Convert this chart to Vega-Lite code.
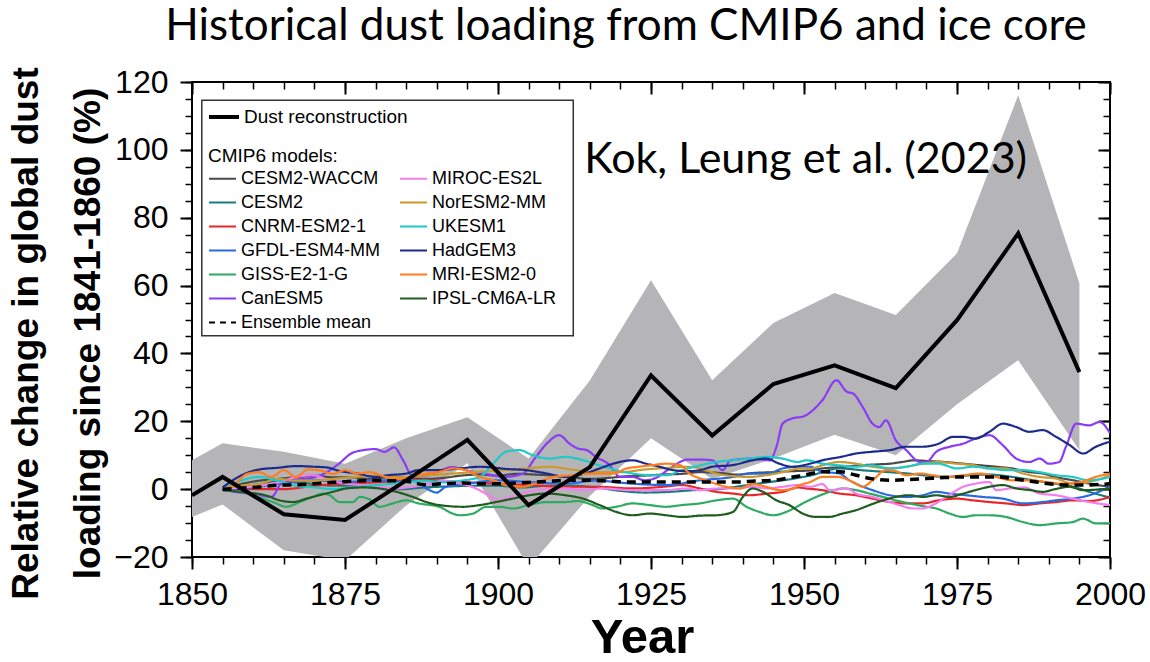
{
  "$schema": "https://vega.github.io/schema/vega-lite/v6.json",
  "width": 918,
  "height": 475,
  "autosize": {"type": "none"},
  "padding": {"left": 192, "top": 82, "right": 40, "bottom": 105},
  "background": "white",
  "title": {"text": "Historical dust loading from CMIP6 and ice core", "font": "Lato", "fontSize": 44, "fontWeight": "normal", "color": "black", "anchor": "middle", "baseline": "alphabetic", "frame": "group", "offset": -18, "dx": -25},
  "config": {
    "view": {"stroke": "black", "strokeWidth": 2},
    "axis": {"domain": false, "grid": false, "tickColor": "black", "labelColor": "black", "labelFont": "Liberation Sans", "titleFont": "Liberation Sans", "titleColor": "black", "zindex": 1},
    "legend": {"labelFont": "Liberation Sans", "titleFont": "Liberation Sans", "labelColor": "black", "titleColor": "black"}
  },
  "datasets": {
    "recon": [
      {"series": "Dust reconstruction", "year": 1850, "value": -1.8, "lo": -8.2, "hi": 8.5},
      {"series": "Dust reconstruction", "year": 1855, "value": 3.6, "lo": -4.5, "hi": 13.5},
      {"series": "Dust reconstruction", "year": 1865, "value": -7.4, "lo": -18, "hi": 11},
      {"series": "Dust reconstruction", "year": 1875, "value": -9.1, "lo": -21, "hi": 7.5},
      {"series": "Dust reconstruction", "year": 1885, "value": 2.6, "lo": -4.8, "hi": 15},
      {"series": "Dust reconstruction", "year": 1895, "value": 14.5, "lo": 7.6, "hi": 21.2},
      {"series": "Dust reconstruction", "year": 1905, "value": -4.7, "lo": -23, "hi": 9},
      {"series": "Dust reconstruction", "year": 1915, "value": 6.5, "lo": -2, "hi": 32},
      {"series": "Dust reconstruction", "year": 1925, "value": 33.5, "lo": 15, "hi": 61.6},
      {"series": "Dust reconstruction", "year": 1935, "value": 15.8, "lo": 3, "hi": 32.1},
      {"series": "Dust reconstruction", "year": 1945, "value": 31, "lo": 9, "hi": 49},
      {"series": "Dust reconstruction", "year": 1955, "value": 36.5, "lo": 16, "hi": 57.8},
      {"series": "Dust reconstruction", "year": 1965, "value": 29.8, "lo": 10, "hi": 51.3},
      {"series": "Dust reconstruction", "year": 1975, "value": 49.8, "lo": 25, "hi": 69.5},
      {"series": "Dust reconstruction", "year": 1985, "value": 75.4, "lo": 38, "hi": 116.1},
      {"series": "Dust reconstruction", "year": 1995, "value": 34.5, "lo": 11.5, "hi": 60.7}
    ],
    "ens": [
      {"series": "Ensemble mean", "year": 1855, "value": 0},
      {"series": "Ensemble mean", "year": 1858, "value": 0.3},
      {"series": "Ensemble mean", "year": 1861, "value": 0.6},
      {"series": "Ensemble mean", "year": 1864, "value": 1.2},
      {"series": "Ensemble mean", "year": 1867, "value": 1.3},
      {"series": "Ensemble mean", "year": 1870, "value": 1.6},
      {"series": "Ensemble mean", "year": 1873, "value": 2},
      {"series": "Ensemble mean", "year": 1876, "value": 2.3},
      {"series": "Ensemble mean", "year": 1879, "value": 2.6},
      {"series": "Ensemble mean", "year": 1882, "value": 2.5},
      {"series": "Ensemble mean", "year": 1885, "value": 2.3},
      {"series": "Ensemble mean", "year": 1888, "value": 1.3},
      {"series": "Ensemble mean", "year": 1891, "value": 1.6},
      {"series": "Ensemble mean", "year": 1894, "value": 1.8},
      {"series": "Ensemble mean", "year": 1897, "value": 1.6},
      {"series": "Ensemble mean", "year": 1900, "value": 1.6},
      {"series": "Ensemble mean", "year": 1903, "value": 1.8},
      {"series": "Ensemble mean", "year": 1906, "value": 2.1},
      {"series": "Ensemble mean", "year": 1909, "value": 2.4},
      {"series": "Ensemble mean", "year": 1912, "value": 2.6},
      {"series": "Ensemble mean", "year": 1915, "value": 2.6},
      {"series": "Ensemble mean", "year": 1918, "value": 2.4},
      {"series": "Ensemble mean", "year": 1921, "value": 2.1},
      {"series": "Ensemble mean", "year": 1924, "value": 2.1},
      {"series": "Ensemble mean", "year": 1927, "value": 2.1},
      {"series": "Ensemble mean", "year": 1930, "value": 2.1},
      {"series": "Ensemble mean", "year": 1933, "value": 2.1},
      {"series": "Ensemble mean", "year": 1936, "value": 2.1},
      {"series": "Ensemble mean", "year": 1939, "value": 2.1},
      {"series": "Ensemble mean", "year": 1942, "value": 2.4},
      {"series": "Ensemble mean", "year": 1945, "value": 2.6},
      {"series": "Ensemble mean", "year": 1948, "value": 3.5},
      {"series": "Ensemble mean", "year": 1950, "value": 4.1},
      {"series": "Ensemble mean", "year": 1953, "value": 5.1},
      {"series": "Ensemble mean", "year": 1956, "value": 5.1},
      {"series": "Ensemble mean", "year": 1958.5, "value": 4.1},
      {"series": "Ensemble mean", "year": 1961, "value": 3.1},
      {"series": "Ensemble mean", "year": 1964, "value": 2.6},
      {"series": "Ensemble mean", "year": 1967, "value": 2.8},
      {"series": "Ensemble mean", "year": 1970, "value": 3.1},
      {"series": "Ensemble mean", "year": 1973, "value": 3.4},
      {"series": "Ensemble mean", "year": 1976, "value": 3.6},
      {"series": "Ensemble mean", "year": 1979, "value": 3.6},
      {"series": "Ensemble mean", "year": 1982, "value": 3.6},
      {"series": "Ensemble mean", "year": 1984, "value": 3.1},
      {"series": "Ensemble mean", "year": 1986, "value": 2.6},
      {"series": "Ensemble mean", "year": 1988, "value": 2.1},
      {"series": "Ensemble mean", "year": 1990, "value": 1.6},
      {"series": "Ensemble mean", "year": 1993, "value": 1.2},
      {"series": "Ensemble mean", "year": 1996, "value": 1.2},
      {"series": "Ensemble mean", "year": 2000, "value": 1.6}
    ],
    "models": [
      {"series": "CESM2-WACCM", "year": 1855, "value": 0},
      {"series": "CESM2-WACCM", "year": 1858, "value": 1.5},
      {"series": "CESM2-WACCM", "year": 1861, "value": 2.5},
      {"series": "CESM2-WACCM", "year": 1864, "value": 3},
      {"series": "CESM2-WACCM", "year": 1867, "value": 3.5},
      {"series": "CESM2-WACCM", "year": 1870, "value": 4},
      {"series": "CESM2-WACCM", "year": 1873, "value": 3.5},
      {"series": "CESM2-WACCM", "year": 1876, "value": 3.5},
      {"series": "CESM2-WACCM", "year": 1879, "value": 3},
      {"series": "CESM2-WACCM", "year": 1882, "value": 3.5},
      {"series": "CESM2-WACCM", "year": 1885, "value": 3.5},
      {"series": "CESM2-WACCM", "year": 1888, "value": 3},
      {"series": "CESM2-WACCM", "year": 1891, "value": 3.3},
      {"series": "CESM2-WACCM", "year": 1894, "value": 4},
      {"series": "CESM2-WACCM", "year": 1897, "value": 4.3},
      {"series": "CESM2-WACCM", "year": 1900, "value": 4},
      {"series": "CESM2-WACCM", "year": 1903, "value": 4.5},
      {"series": "CESM2-WACCM", "year": 1906, "value": 4.3},
      {"series": "CESM2-WACCM", "year": 1909, "value": 4},
      {"series": "CESM2-WACCM", "year": 1912, "value": 3.5},
      {"series": "CESM2-WACCM", "year": 1915, "value": 3},
      {"series": "CESM2-WACCM", "year": 1918, "value": 3.3},
      {"series": "CESM2-WACCM", "year": 1921, "value": 3.8},
      {"series": "CESM2-WACCM", "year": 1924, "value": 4},
      {"series": "CESM2-WACCM", "year": 1927, "value": 4.3},
      {"series": "CESM2-WACCM", "year": 1930, "value": 4.5},
      {"series": "CESM2-WACCM", "year": 1933, "value": 5},
      {"series": "CESM2-WACCM", "year": 1936, "value": 4.8},
      {"series": "CESM2-WACCM", "year": 1939, "value": 4.3},
      {"series": "CESM2-WACCM", "year": 1942, "value": 4.8},
      {"series": "CESM2-WACCM", "year": 1945, "value": 5},
      {"series": "CESM2-WACCM", "year": 1948, "value": 5.3},
      {"series": "CESM2-WACCM", "year": 1951, "value": 5.5},
      {"series": "CESM2-WACCM", "year": 1953, "value": 6.1},
      {"series": "CESM2-WACCM", "year": 1956, "value": 6.5},
      {"series": "CESM2-WACCM", "year": 1959, "value": 7},
      {"series": "CESM2-WACCM", "year": 1962, "value": 7.3},
      {"series": "CESM2-WACCM", "year": 1964, "value": 7.5},
      {"series": "CESM2-WACCM", "year": 1966, "value": 8},
      {"series": "CESM2-WACCM", "year": 1968, "value": 8.5},
      {"series": "CESM2-WACCM", "year": 1970, "value": 8.3},
      {"series": "CESM2-WACCM", "year": 1973, "value": 8},
      {"series": "CESM2-WACCM", "year": 1976, "value": 7.5},
      {"series": "CESM2-WACCM", "year": 1979, "value": 7},
      {"series": "CESM2-WACCM", "year": 1982, "value": 6.5},
      {"series": "CESM2-WACCM", "year": 1984, "value": 6.1},
      {"series": "CESM2-WACCM", "year": 1986.5, "value": 5.1},
      {"series": "CESM2-WACCM", "year": 1989, "value": 4.6},
      {"series": "CESM2-WACCM", "year": 1991, "value": 3.6},
      {"series": "CESM2-WACCM", "year": 1994, "value": 2.6},
      {"series": "CESM2-WACCM", "year": 1997, "value": 1.5},
      {"series": "CESM2-WACCM", "year": 2000, "value": 0.7},

      {"series": "CESM2", "year": 1855, "value": 0},
      {"series": "CESM2", "year": 1858, "value": 0.8},
      {"series": "CESM2", "year": 1861, "value": 1.5},
      {"series": "CESM2", "year": 1864, "value": 2.5},
      {"series": "CESM2", "year": 1867, "value": 2},
      {"series": "CESM2", "year": 1870, "value": 1.5},
      {"series": "CESM2", "year": 1873, "value": 1},
      {"series": "CESM2", "year": 1876, "value": 1},
      {"series": "CESM2", "year": 1880, "value": 0.5},
      {"series": "CESM2", "year": 1884, "value": 0},
      {"series": "CESM2", "year": 1888, "value": 0.5},
      {"series": "CESM2", "year": 1892, "value": 0.8},
      {"series": "CESM2", "year": 1896, "value": 1},
      {"series": "CESM2", "year": 1900, "value": 1},
      {"series": "CESM2", "year": 1904, "value": 0.5},
      {"series": "CESM2", "year": 1908, "value": 1},
      {"series": "CESM2", "year": 1912, "value": 1},
      {"series": "CESM2", "year": 1916, "value": 0.5},
      {"series": "CESM2", "year": 1920, "value": -0.5},
      {"series": "CESM2", "year": 1924, "value": -1},
      {"series": "CESM2", "year": 1928, "value": -0.8},
      {"series": "CESM2", "year": 1932, "value": -0.3},
      {"series": "CESM2", "year": 1936, "value": 0},
      {"series": "CESM2", "year": 1940, "value": 1},
      {"series": "CESM2", "year": 1944, "value": 2},
      {"series": "CESM2", "year": 1948, "value": 3},
      {"series": "CESM2", "year": 1951, "value": 4},
      {"series": "CESM2", "year": 1955.8, "value": 6.1},
      {"series": "CESM2", "year": 1960, "value": 5.5},
      {"series": "CESM2", "year": 1964, "value": 5},
      {"series": "CESM2", "year": 1967, "value": 4.6},
      {"series": "CESM2", "year": 1970, "value": 4},
      {"series": "CESM2", "year": 1973, "value": 3.6},
      {"series": "CESM2", "year": 1976.5, "value": 4},
      {"series": "CESM2", "year": 1980, "value": 4.3},
      {"series": "CESM2", "year": 1984, "value": 3.6},
      {"series": "CESM2", "year": 1987.5, "value": 2.6},
      {"series": "CESM2", "year": 1991, "value": 1.6},
      {"series": "CESM2", "year": 1994, "value": 0.7},
      {"series": "CESM2", "year": 1997, "value": -1},
      {"series": "CESM2", "year": 2000, "value": -2.5},

      {"series": "CNRM-ESM2-1", "year": 1855, "value": 0},
      {"series": "CNRM-ESM2-1", "year": 1860, "value": 0},
      {"series": "CNRM-ESM2-1", "year": 1865, "value": 0},
      {"series": "CNRM-ESM2-1", "year": 1870, "value": 1},
      {"series": "CNRM-ESM2-1", "year": 1875, "value": 1.6},
      {"series": "CNRM-ESM2-1", "year": 1880, "value": 2},
      {"series": "CNRM-ESM2-1", "year": 1886, "value": 2.6},
      {"series": "CNRM-ESM2-1", "year": 1890, "value": 2.5},
      {"series": "CNRM-ESM2-1", "year": 1895, "value": 2},
      {"series": "CNRM-ESM2-1", "year": 1900, "value": 1.6},
      {"series": "CNRM-ESM2-1", "year": 1905, "value": 1.2},
      {"series": "CNRM-ESM2-1", "year": 1911, "value": 0.7},
      {"series": "CNRM-ESM2-1", "year": 1916, "value": 0.7},
      {"series": "CNRM-ESM2-1", "year": 1922, "value": 0.2},
      {"series": "CNRM-ESM2-1", "year": 1927, "value": 0.7},
      {"series": "CNRM-ESM2-1", "year": 1930, "value": 1.2},
      {"series": "CNRM-ESM2-1", "year": 1933, "value": 0.2},
      {"series": "CNRM-ESM2-1", "year": 1935.7, "value": -0.8},
      {"series": "CNRM-ESM2-1", "year": 1938.4, "value": -1.3},
      {"series": "CNRM-ESM2-1", "year": 1941, "value": -1.8},
      {"series": "CNRM-ESM2-1", "year": 1944, "value": -1.3},
      {"series": "CNRM-ESM2-1", "year": 1946.5, "value": -0.8},
      {"series": "CNRM-ESM2-1", "year": 1949, "value": 0.5},
      {"series": "CNRM-ESM2-1", "year": 1950.4, "value": 0.2},
      {"series": "CNRM-ESM2-1", "year": 1953, "value": -0.3},
      {"series": "CNRM-ESM2-1", "year": 1955.8, "value": -1.3},
      {"series": "CNRM-ESM2-1", "year": 1958.5, "value": -1.8},
      {"series": "CNRM-ESM2-1", "year": 1961.2, "value": -2.8},
      {"series": "CNRM-ESM2-1", "year": 1964, "value": -3.8},
      {"series": "CNRM-ESM2-1", "year": 1966.7, "value": -4.2},
      {"series": "CNRM-ESM2-1", "year": 1969.4, "value": -4.2},
      {"series": "CNRM-ESM2-1", "year": 1972, "value": -3.3},
      {"series": "CNRM-ESM2-1", "year": 1975, "value": -2.8},
      {"series": "CNRM-ESM2-1", "year": 1977.6, "value": -3.3},
      {"series": "CNRM-ESM2-1", "year": 1980.3, "value": -3.8},
      {"series": "CNRM-ESM2-1", "year": 1983, "value": -4.2},
      {"series": "CNRM-ESM2-1", "year": 1985.8, "value": -4.7},
      {"series": "CNRM-ESM2-1", "year": 1988.5, "value": -4.2},
      {"series": "CNRM-ESM2-1", "year": 1991.2, "value": -3.8},
      {"series": "CNRM-ESM2-1", "year": 1993.9, "value": -3.3},
      {"series": "CNRM-ESM2-1", "year": 1996.6, "value": -3.5},
      {"series": "CNRM-ESM2-1", "year": 2000, "value": -2.3},

      {"series": "GFDL-ESM4-MM", "year": 1855, "value": 0},
      {"series": "GFDL-ESM4-MM", "year": 1860, "value": 0.5},
      {"series": "GFDL-ESM4-MM", "year": 1864, "value": 1.6},
      {"series": "GFDL-ESM4-MM", "year": 1870, "value": 2.6},
      {"series": "GFDL-ESM4-MM", "year": 1875, "value": 2.1},
      {"series": "GFDL-ESM4-MM", "year": 1880, "value": 2.6},
      {"series": "GFDL-ESM4-MM", "year": 1886, "value": 2.6},
      {"series": "GFDL-ESM4-MM", "year": 1888, "value": 0.5},
      {"series": "GFDL-ESM4-MM", "year": 1890, "value": -1},
      {"series": "GFDL-ESM4-MM", "year": 1891.5, "value": 0.7},
      {"series": "GFDL-ESM4-MM", "year": 1895, "value": 1.6},
      {"series": "GFDL-ESM4-MM", "year": 1900, "value": 2.6},
      {"series": "GFDL-ESM4-MM", "year": 1905, "value": 2.1},
      {"series": "GFDL-ESM4-MM", "year": 1911, "value": 1.6},
      {"series": "GFDL-ESM4-MM", "year": 1916, "value": 2.5},
      {"series": "GFDL-ESM4-MM", "year": 1922, "value": 1.6},
      {"series": "GFDL-ESM4-MM", "year": 1927.5, "value": 1.2},
      {"series": "GFDL-ESM4-MM", "year": 1933, "value": 2.6},
      {"series": "GFDL-ESM4-MM", "year": 1938.4, "value": 3.6},
      {"series": "GFDL-ESM4-MM", "year": 1941, "value": 4.6},
      {"series": "GFDL-ESM4-MM", "year": 1944, "value": 4.6},
      {"series": "GFDL-ESM4-MM", "year": 1946.5, "value": 6.1},
      {"series": "GFDL-ESM4-MM", "year": 1949, "value": 6.6},
      {"series": "GFDL-ESM4-MM", "year": 1951, "value": 6.6},
      {"series": "GFDL-ESM4-MM", "year": 1953, "value": 5.1},
      {"series": "GFDL-ESM4-MM", "year": 1955.8, "value": 4.6},
      {"series": "GFDL-ESM4-MM", "year": 1957.4, "value": 2.6},
      {"series": "GFDL-ESM4-MM", "year": 1958.5, "value": 1.6},
      {"series": "GFDL-ESM4-MM", "year": 1961.2, "value": -0.3},
      {"series": "GFDL-ESM4-MM", "year": 1964, "value": -1.8},
      {"series": "GFDL-ESM4-MM", "year": 1966.7, "value": -2.3},
      {"series": "GFDL-ESM4-MM", "year": 1969.4, "value": -1.8},
      {"series": "GFDL-ESM4-MM", "year": 1971.6, "value": -0.8},
      {"series": "GFDL-ESM4-MM", "year": 1973.8, "value": -1.3},
      {"series": "GFDL-ESM4-MM", "year": 1976.5, "value": -1.8},
      {"series": "GFDL-ESM4-MM", "year": 1979.2, "value": -2.3},
      {"series": "GFDL-ESM4-MM", "year": 1982.5, "value": -2.8},
      {"series": "GFDL-ESM4-MM", "year": 1985.8, "value": -4.2},
      {"series": "GFDL-ESM4-MM", "year": 1989, "value": -3.8},
      {"series": "GFDL-ESM4-MM", "year": 1991.2, "value": -3.3},
      {"series": "GFDL-ESM4-MM", "year": 1993.9, "value": -2.8},
      {"series": "GFDL-ESM4-MM", "year": 1996.6, "value": -1.8},
      {"series": "GFDL-ESM4-MM", "year": 2000, "value": 0.7},

      {"series": "GISS-E2-1-G", "year": 1855, "value": -0.3},
      {"series": "GISS-E2-1-G", "year": 1858.9, "value": -1.3},
      {"series": "GISS-E2-1-G", "year": 1861.6, "value": -2.8},
      {"series": "GISS-E2-1-G", "year": 1863.5, "value": -4},
      {"series": "GISS-E2-1-G", "year": 1865.4, "value": -5.2},
      {"series": "GISS-E2-1-G", "year": 1867.6, "value": -3.8},
      {"series": "GISS-E2-1-G", "year": 1869.7, "value": -2.3},
      {"series": "GISS-E2-1-G", "year": 1871.4, "value": -1.3},
      {"series": "GISS-E2-1-G", "year": 1872.5, "value": -1.8},
      {"series": "GISS-E2-1-G", "year": 1874.1, "value": -3.8},
      {"series": "GISS-E2-1-G", "year": 1876.3, "value": -3.8},
      {"series": "GISS-E2-1-G", "year": 1877.4, "value": -2.3},
      {"series": "GISS-E2-1-G", "year": 1879, "value": -3},
      {"series": "GISS-E2-1-G", "year": 1880.6, "value": -5.2},
      {"series": "GISS-E2-1-G", "year": 1882.8, "value": -4.2},
      {"series": "GISS-E2-1-G", "year": 1885, "value": -3.3},
      {"series": "GISS-E2-1-G", "year": 1887, "value": -4.2},
      {"series": "GISS-E2-1-G", "year": 1890.4, "value": -5.2},
      {"series": "GISS-E2-1-G", "year": 1892.6, "value": -7.2},
      {"series": "GISS-E2-1-G", "year": 1893.7, "value": -7.7},
      {"series": "GISS-E2-1-G", "year": 1895.9, "value": -7.2},
      {"series": "GISS-E2-1-G", "year": 1898.1, "value": -5.2},
      {"series": "GISS-E2-1-G", "year": 1900.3, "value": -5.2},
      {"series": "GISS-E2-1-G", "year": 1902.4, "value": -5.7},
      {"series": "GISS-E2-1-G", "year": 1905, "value": -4.7},
      {"series": "GISS-E2-1-G", "year": 1907.9, "value": -3.8},
      {"series": "GISS-E2-1-G", "year": 1911, "value": -3.8},
      {"series": "GISS-E2-1-G", "year": 1913, "value": -3.5},
      {"series": "GISS-E2-1-G", "year": 1915.5, "value": -4.7},
      {"series": "GISS-E2-1-G", "year": 1917, "value": -5.7},
      {"series": "GISS-E2-1-G", "year": 1919.3, "value": -5.2},
      {"series": "GISS-E2-1-G", "year": 1922, "value": -4.2},
      {"series": "GISS-E2-1-G", "year": 1924.8, "value": -4.7},
      {"series": "GISS-E2-1-G", "year": 1927.5, "value": -5.2},
      {"series": "GISS-E2-1-G", "year": 1930, "value": -4.7},
      {"series": "GISS-E2-1-G", "year": 1933, "value": -4.2},
      {"series": "GISS-E2-1-G", "year": 1935.7, "value": -3.3},
      {"series": "GISS-E2-1-G", "year": 1938.4, "value": -2.8},
      {"series": "GISS-E2-1-G", "year": 1940.6, "value": -5.2},
      {"series": "GISS-E2-1-G", "year": 1942.7, "value": -6.7},
      {"series": "GISS-E2-1-G", "year": 1945, "value": -7.7},
      {"series": "GISS-E2-1-G", "year": 1947.1, "value": -6.7},
      {"series": "GISS-E2-1-G", "year": 1948.5, "value": -5.5},
      {"series": "GISS-E2-1-G", "year": 1949.8, "value": -4.2},
      {"series": "GISS-E2-1-G", "year": 1952, "value": -2.3},
      {"series": "GISS-E2-1-G", "year": 1954.2, "value": -0.8},
      {"series": "GISS-E2-1-G", "year": 1956.3, "value": 0.2},
      {"series": "GISS-E2-1-G", "year": 1958.5, "value": -0.3},
      {"series": "GISS-E2-1-G", "year": 1960.7, "value": -1.3},
      {"series": "GISS-E2-1-G", "year": 1962.9, "value": -2.3},
      {"series": "GISS-E2-1-G", "year": 1965, "value": -3.3},
      {"series": "GISS-E2-1-G", "year": 1967.2, "value": -4.2},
      {"series": "GISS-E2-1-G", "year": 1969.4, "value": -5},
      {"series": "GISS-E2-1-G", "year": 1971.6, "value": -5.7},
      {"series": "GISS-E2-1-G", "year": 1973.8, "value": -7.2},
      {"series": "GISS-E2-1-G", "year": 1976, "value": -8.2},
      {"series": "GISS-E2-1-G", "year": 1978, "value": -7.7},
      {"series": "GISS-E2-1-G", "year": 1980.3, "value": -7.7},
      {"series": "GISS-E2-1-G", "year": 1983, "value": -8.2},
      {"series": "GISS-E2-1-G", "year": 1985.8, "value": -9.7},
      {"series": "GISS-E2-1-G", "year": 1988.5, "value": -10.6},
      {"series": "GISS-E2-1-G", "year": 1991.2, "value": -10.1},
      {"series": "GISS-E2-1-G", "year": 1993.9, "value": -9.7},
      {"series": "GISS-E2-1-G", "year": 1995.6, "value": -8.7},
      {"series": "GISS-E2-1-G", "year": 1997.7, "value": -10.1},
      {"series": "GISS-E2-1-G", "year": 2000, "value": -10.1},

      {"series": "CanESM5", "year": 1855, "value": 0},
      {"series": "CanESM5", "year": 1857, "value": -0.8},
      {"series": "CanESM5", "year": 1860, "value": -1.3},
      {"series": "CanESM5", "year": 1863, "value": -2.3},
      {"series": "CanESM5", "year": 1864.5, "value": 1.5},
      {"series": "CanESM5", "year": 1866, "value": 2.5},
      {"series": "CanESM5", "year": 1868, "value": 3},
      {"series": "CanESM5", "year": 1870, "value": 3.5},
      {"series": "CanESM5", "year": 1872, "value": 5},
      {"series": "CanESM5", "year": 1874, "value": 7.5},
      {"series": "CanESM5", "year": 1876, "value": 10.5},
      {"series": "CanESM5", "year": 1878, "value": 11.5},
      {"series": "CanESM5", "year": 1880, "value": 11.8},
      {"series": "CanESM5", "year": 1881.5, "value": 11},
      {"series": "CanESM5", "year": 1883, "value": 12.3},
      {"series": "CanESM5", "year": 1884.5, "value": 8.5},
      {"series": "CanESM5", "year": 1886, "value": 4},
      {"series": "CanESM5", "year": 1888, "value": 4},
      {"series": "CanESM5", "year": 1890, "value": 5},
      {"series": "CanESM5", "year": 1892.5, "value": 6.5},
      {"series": "CanESM5", "year": 1895, "value": 5.5},
      {"series": "CanESM5", "year": 1898, "value": 4.5},
      {"series": "CanESM5", "year": 1901, "value": 3.6},
      {"series": "CanESM5", "year": 1904, "value": 4.5},
      {"series": "CanESM5", "year": 1906, "value": 9},
      {"series": "CanESM5", "year": 1908, "value": 13.5},
      {"series": "CanESM5", "year": 1910, "value": 15.9},
      {"series": "CanESM5", "year": 1911.7, "value": 13.4},
      {"series": "CanESM5", "year": 1913, "value": 12},
      {"series": "CanESM5", "year": 1914.5, "value": 11.5},
      {"series": "CanESM5", "year": 1916, "value": 9.5},
      {"series": "CanESM5", "year": 1918, "value": 7.5},
      {"series": "CanESM5", "year": 1920, "value": 3.6},
      {"series": "CanESM5", "year": 1922, "value": 3.6},
      {"series": "CanESM5", "year": 1924, "value": 2.6},
      {"series": "CanESM5", "year": 1926, "value": 3.5},
      {"series": "CanESM5", "year": 1928, "value": 6},
      {"series": "CanESM5", "year": 1931, "value": 8.7},
      {"series": "CanESM5", "year": 1933, "value": 8.7},
      {"series": "CanESM5", "year": 1935, "value": 8.5},
      {"series": "CanESM5", "year": 1936.7, "value": 5.6},
      {"series": "CanESM5", "year": 1938, "value": 8.5},
      {"series": "CanESM5", "year": 1941.5, "value": 9},
      {"series": "CanESM5", "year": 1944.4, "value": 8.5},
      {"series": "CanESM5", "year": 1945.5, "value": 12.5},
      {"series": "CanESM5", "year": 1946.5, "value": 19.3},
      {"series": "CanESM5", "year": 1948, "value": 20.8},
      {"series": "CanESM5", "year": 1950, "value": 21.5},
      {"series": "CanESM5", "year": 1952, "value": 24.2},
      {"series": "CanESM5", "year": 1953, "value": 26.2},
      {"series": "CanESM5", "year": 1955.3, "value": 32.1},
      {"series": "CanESM5", "year": 1957, "value": 28.7},
      {"series": "CanESM5", "year": 1958, "value": 28.2},
      {"series": "CanESM5", "year": 1959.6, "value": 24.2},
      {"series": "CanESM5", "year": 1961.2, "value": 19.3},
      {"series": "CanESM5", "year": 1962.3, "value": 18.3},
      {"series": "CanESM5", "year": 1963.4, "value": 20.3},
      {"series": "CanESM5", "year": 1965, "value": 14.4},
      {"series": "CanESM5", "year": 1966.7, "value": 11.5},
      {"series": "CanESM5", "year": 1969, "value": 8},
      {"series": "CanESM5", "year": 1970, "value": 8},
      {"series": "CanESM5", "year": 1971.6, "value": 11},
      {"series": "CanESM5", "year": 1973.8, "value": 12.5},
      {"series": "CanESM5", "year": 1976, "value": 13.4},
      {"series": "CanESM5", "year": 1978, "value": 14.9},
      {"series": "CanESM5", "year": 1980.3, "value": 15.9},
      {"series": "CanESM5", "year": 1982.5, "value": 12.9},
      {"series": "CanESM5", "year": 1984.7, "value": 9},
      {"series": "CanESM5", "year": 1986.8, "value": 8},
      {"series": "CanESM5", "year": 1988.5, "value": 9},
      {"series": "CanESM5", "year": 1990, "value": 7.5},
      {"series": "CanESM5", "year": 1991.7, "value": 8},
      {"series": "CanESM5", "year": 1992.8, "value": 12.5},
      {"series": "CanESM5", "year": 1994.5, "value": 19.3},
      {"series": "CanESM5", "year": 1996.6, "value": 18.8},
      {"series": "CanESM5", "year": 1998.3, "value": 19.8},
      {"series": "CanESM5", "year": 2000, "value": 16.5},

      {"series": "MIROC-ES2L", "year": 1855, "value": 0},
      {"series": "MIROC-ES2L", "year": 1858, "value": 0.5},
      {"series": "MIROC-ES2L", "year": 1861, "value": 1},
      {"series": "MIROC-ES2L", "year": 1864.3, "value": 2.1},
      {"series": "MIROC-ES2L", "year": 1867, "value": 3.6},
      {"series": "MIROC-ES2L", "year": 1869.7, "value": 4.1},
      {"series": "MIROC-ES2L", "year": 1872.5, "value": 2.6},
      {"series": "MIROC-ES2L", "year": 1875.2, "value": 1.6},
      {"series": "MIROC-ES2L", "year": 1877.9, "value": 1.2},
      {"series": "MIROC-ES2L", "year": 1880.6, "value": 0.7},
      {"series": "MIROC-ES2L", "year": 1883, "value": 0.2},
      {"series": "MIROC-ES2L", "year": 1886, "value": 0.7},
      {"series": "MIROC-ES2L", "year": 1888.8, "value": 1.6},
      {"series": "MIROC-ES2L", "year": 1891, "value": 2.5},
      {"series": "MIROC-ES2L", "year": 1894, "value": 1.6},
      {"series": "MIROC-ES2L", "year": 1896, "value": 0.5},
      {"series": "MIROC-ES2L", "year": 1898, "value": -1.3},
      {"series": "MIROC-ES2L", "year": 1900, "value": -3.3},
      {"series": "MIROC-ES2L", "year": 1902, "value": -2.3},
      {"series": "MIROC-ES2L", "year": 1905, "value": -0.8},
      {"series": "MIROC-ES2L", "year": 1908, "value": 0},
      {"series": "MIROC-ES2L", "year": 1911, "value": 0.2},
      {"series": "MIROC-ES2L", "year": 1914, "value": -0.3},
      {"series": "MIROC-ES2L", "year": 1917, "value": 0.2},
      {"series": "MIROC-ES2L", "year": 1922, "value": -0.3},
      {"series": "MIROC-ES2L", "year": 1927.5, "value": -0.3},
      {"series": "MIROC-ES2L", "year": 1930.8, "value": 0.2},
      {"series": "MIROC-ES2L", "year": 1933, "value": -0.3},
      {"series": "MIROC-ES2L", "year": 1936, "value": 0.2},
      {"series": "MIROC-ES2L", "year": 1939, "value": 0.2},
      {"series": "MIROC-ES2L", "year": 1941.6, "value": 0.7},
      {"series": "MIROC-ES2L", "year": 1944, "value": 0.2},
      {"series": "MIROC-ES2L", "year": 1946.5, "value": 0.7},
      {"series": "MIROC-ES2L", "year": 1949, "value": 1.2},
      {"series": "MIROC-ES2L", "year": 1951, "value": 0.7},
      {"series": "MIROC-ES2L", "year": 1953, "value": 1.5},
      {"series": "MIROC-ES2L", "year": 1954.2, "value": -0.3},
      {"series": "MIROC-ES2L", "year": 1957, "value": 0.2},
      {"series": "MIROC-ES2L", "year": 1958.5, "value": -1.3},
      {"series": "MIROC-ES2L", "year": 1961.2, "value": -2.3},
      {"series": "MIROC-ES2L", "year": 1964, "value": -3.8},
      {"series": "MIROC-ES2L", "year": 1965.6, "value": -4.7},
      {"series": "MIROC-ES2L", "year": 1967.8, "value": -5.7},
      {"series": "MIROC-ES2L", "year": 1969.4, "value": -5.7},
      {"series": "MIROC-ES2L", "year": 1971, "value": -4.7},
      {"series": "MIROC-ES2L", "year": 1973.5, "value": -2},
      {"series": "MIROC-ES2L", "year": 1976, "value": 0.7},
      {"series": "MIROC-ES2L", "year": 1978, "value": 1.6},
      {"series": "MIROC-ES2L", "year": 1980.3, "value": 2.1},
      {"series": "MIROC-ES2L", "year": 1981.4, "value": -0.3},
      {"series": "MIROC-ES2L", "year": 1983.6, "value": 0.2},
      {"series": "MIROC-ES2L", "year": 1986, "value": 0.5},
      {"series": "MIROC-ES2L", "year": 1988.5, "value": -1.3},
      {"series": "MIROC-ES2L", "year": 1991.2, "value": -1.8},
      {"series": "MIROC-ES2L", "year": 1993.9, "value": -2.8},
      {"series": "MIROC-ES2L", "year": 1996.6, "value": -3.8},
      {"series": "MIROC-ES2L", "year": 2000, "value": -4.7},

      {"series": "NorESM2-MM", "year": 1855, "value": 0},
      {"series": "NorESM2-MM", "year": 1858, "value": 1},
      {"series": "NorESM2-MM", "year": 1861, "value": 1.5},
      {"series": "NorESM2-MM", "year": 1864, "value": 3},
      {"series": "NorESM2-MM", "year": 1867, "value": 2.5},
      {"series": "NorESM2-MM", "year": 1870, "value": 2.5},
      {"series": "NorESM2-MM", "year": 1873, "value": 3},
      {"series": "NorESM2-MM", "year": 1876, "value": 3.5},
      {"series": "NorESM2-MM", "year": 1880, "value": 4},
      {"series": "NorESM2-MM", "year": 1884, "value": 3.5},
      {"series": "NorESM2-MM", "year": 1888, "value": 4},
      {"series": "NorESM2-MM", "year": 1892, "value": 4.5},
      {"series": "NorESM2-MM", "year": 1896, "value": 5},
      {"series": "NorESM2-MM", "year": 1900, "value": 5.5},
      {"series": "NorESM2-MM", "year": 1904.6, "value": 6.1},
      {"series": "NorESM2-MM", "year": 1908.4, "value": 6.6},
      {"series": "NorESM2-MM", "year": 1912, "value": 5.8},
      {"series": "NorESM2-MM", "year": 1916, "value": 5},
      {"series": "NorESM2-MM", "year": 1920, "value": 5},
      {"series": "NorESM2-MM", "year": 1924, "value": 5.8},
      {"series": "NorESM2-MM", "year": 1928, "value": 6.3},
      {"series": "NorESM2-MM", "year": 1930.8, "value": 6.6},
      {"series": "NorESM2-MM", "year": 1933, "value": 6.1},
      {"series": "NorESM2-MM", "year": 1935.7, "value": 4.6},
      {"series": "NorESM2-MM", "year": 1938.5, "value": 3.8},
      {"series": "NorESM2-MM", "year": 1941, "value": 3.6},
      {"series": "NorESM2-MM", "year": 1943.8, "value": 4.1},
      {"series": "NorESM2-MM", "year": 1946.5, "value": 5},
      {"series": "NorESM2-MM", "year": 1949.3, "value": 6.1},
      {"series": "NorESM2-MM", "year": 1951, "value": 6},
      {"series": "NorESM2-MM", "year": 1953.1, "value": 7.1},
      {"series": "NorESM2-MM", "year": 1955.8, "value": 8},
      {"series": "NorESM2-MM", "year": 1958.5, "value": 7.5},
      {"series": "NorESM2-MM", "year": 1961.2, "value": 6.6},
      {"series": "NorESM2-MM", "year": 1964, "value": 6.1},
      {"series": "NorESM2-MM", "year": 1966.7, "value": 6.6},
      {"series": "NorESM2-MM", "year": 1969.4, "value": 7.5},
      {"series": "NorESM2-MM", "year": 1972, "value": 8},
      {"series": "NorESM2-MM", "year": 1974.9, "value": 7.5},
      {"series": "NorESM2-MM", "year": 1977.6, "value": 7.1},
      {"series": "NorESM2-MM", "year": 1980.3, "value": 6.1},
      {"series": "NorESM2-MM", "year": 1983, "value": 6.1},
      {"series": "NorESM2-MM", "year": 1985.8, "value": 4.6},
      {"series": "NorESM2-MM", "year": 1988.5, "value": 3.6},
      {"series": "NorESM2-MM", "year": 1991.2, "value": 3.1},
      {"series": "NorESM2-MM", "year": 1993.9, "value": 1.6},
      {"series": "NorESM2-MM", "year": 1996.6, "value": 2.1},
      {"series": "NorESM2-MM", "year": 2000, "value": 4.1},

      {"series": "UKESM1", "year": 1855, "value": 0},
      {"series": "UKESM1", "year": 1858, "value": 2.5},
      {"series": "UKESM1", "year": 1861, "value": 3.6},
      {"series": "UKESM1", "year": 1864, "value": 2.5},
      {"series": "UKESM1", "year": 1867, "value": 1},
      {"series": "UKESM1", "year": 1870, "value": 0.5},
      {"series": "UKESM1", "year": 1873, "value": 0},
      {"series": "UKESM1", "year": 1876, "value": 0.5},
      {"series": "UKESM1", "year": 1879, "value": 1},
      {"series": "UKESM1", "year": 1882, "value": 1.5},
      {"series": "UKESM1", "year": 1885, "value": 2},
      {"series": "UKESM1", "year": 1888, "value": 2.5},
      {"series": "UKESM1", "year": 1891, "value": 2},
      {"series": "UKESM1", "year": 1894, "value": 2.5},
      {"series": "UKESM1", "year": 1897, "value": 3.6},
      {"series": "UKESM1", "year": 1899.2, "value": 7.5},
      {"series": "UKESM1", "year": 1901.3, "value": 11},
      {"series": "UKESM1", "year": 1903.5, "value": 11.5},
      {"series": "UKESM1", "year": 1905.7, "value": 10},
      {"series": "UKESM1", "year": 1908.4, "value": 9},
      {"series": "UKESM1", "year": 1911, "value": 9.5},
      {"series": "UKESM1", "year": 1914, "value": 8.5},
      {"series": "UKESM1", "year": 1916.6, "value": 7},
      {"series": "UKESM1", "year": 1919.3, "value": 5.6},
      {"series": "UKESM1", "year": 1922, "value": 4.6},
      {"series": "UKESM1", "year": 1925, "value": 4.1},
      {"series": "UKESM1", "year": 1927.5, "value": 4.1},
      {"series": "UKESM1", "year": 1930, "value": 5.6},
      {"series": "UKESM1", "year": 1933, "value": 7},
      {"series": "UKESM1", "year": 1935.7, "value": 8},
      {"series": "UKESM1", "year": 1938.4, "value": 8.5},
      {"series": "UKESM1", "year": 1941, "value": 9},
      {"series": "UKESM1", "year": 1943.8, "value": 9.5},
      {"series": "UKESM1", "year": 1946.5, "value": 9},
      {"series": "UKESM1", "year": 1949, "value": 8},
      {"series": "UKESM1", "year": 1950.4, "value": 8.5},
      {"series": "UKESM1", "year": 1953, "value": 7.5},
      {"series": "UKESM1", "year": 1955.8, "value": 7},
      {"series": "UKESM1", "year": 1958.5, "value": 6.6},
      {"series": "UKESM1", "year": 1961, "value": 7},
      {"series": "UKESM1", "year": 1964, "value": 6.1},
      {"series": "UKESM1", "year": 1966.7, "value": 6.6},
      {"series": "UKESM1", "year": 1969.4, "value": 7.5},
      {"series": "UKESM1", "year": 1972, "value": 7.5},
      {"series": "UKESM1", "year": 1975, "value": 6.1},
      {"series": "UKESM1", "year": 1977.6, "value": 6.6},
      {"series": "UKESM1", "year": 1980.3, "value": 6.1},
      {"series": "UKESM1", "year": 1983, "value": 5.6},
      {"series": "UKESM1", "year": 1985.8, "value": 5.6},
      {"series": "UKESM1", "year": 1988.5, "value": 5},
      {"series": "UKESM1", "year": 1991.2, "value": 4.1},
      {"series": "UKESM1", "year": 1993.9, "value": 3.6},
      {"series": "UKESM1", "year": 1996.6, "value": 2.6},
      {"series": "UKESM1", "year": 2000, "value": 3.6},

      {"series": "HadGEM3", "year": 1855, "value": 0.5},
      {"series": "HadGEM3", "year": 1858, "value": 4},
      {"series": "HadGEM3", "year": 1861, "value": 5.8},
      {"series": "HadGEM3", "year": 1864, "value": 6.3},
      {"series": "HadGEM3", "year": 1867, "value": 6.8},
      {"series": "HadGEM3", "year": 1870, "value": 6.6},
      {"series": "HadGEM3", "year": 1872, "value": 6.4},
      {"series": "HadGEM3", "year": 1874, "value": 5.4},
      {"series": "HadGEM3", "year": 1877, "value": 4.6},
      {"series": "HadGEM3", "year": 1880, "value": 3.6},
      {"series": "HadGEM3", "year": 1882, "value": 4.1},
      {"series": "HadGEM3", "year": 1885, "value": 4.6},
      {"series": "HadGEM3", "year": 1887, "value": 5.6},
      {"series": "HadGEM3", "year": 1890, "value": 5.6},
      {"series": "HadGEM3", "year": 1893.7, "value": 6.1},
      {"series": "HadGEM3", "year": 1897, "value": 6.6},
      {"series": "HadGEM3", "year": 1899, "value": 6.4},
      {"series": "HadGEM3", "year": 1901, "value": 6},
      {"series": "HadGEM3", "year": 1904.6, "value": 5.6},
      {"series": "HadGEM3", "year": 1908, "value": 4.6},
      {"series": "HadGEM3", "year": 1911, "value": 3.6},
      {"series": "HadGEM3", "year": 1914, "value": 4.5},
      {"series": "HadGEM3", "year": 1916.6, "value": 6.1},
      {"series": "HadGEM3", "year": 1918.8, "value": 7.5},
      {"series": "HadGEM3", "year": 1922, "value": 8.5},
      {"series": "HadGEM3", "year": 1924.2, "value": 7.5},
      {"series": "HadGEM3", "year": 1926.4, "value": 6.6},
      {"series": "HadGEM3", "year": 1928.6, "value": 5.6},
      {"series": "HadGEM3", "year": 1931, "value": 5.3},
      {"series": "HadGEM3", "year": 1933, "value": 5.6},
      {"series": "HadGEM3", "year": 1935, "value": 6.6},
      {"series": "HadGEM3", "year": 1938.4, "value": 7.1},
      {"series": "HadGEM3", "year": 1941.6, "value": 8.5},
      {"series": "HadGEM3", "year": 1943.8, "value": 9},
      {"series": "HadGEM3", "year": 1946, "value": 7.5},
      {"series": "HadGEM3", "year": 1948, "value": 6.6},
      {"series": "HadGEM3", "year": 1951, "value": 7.5},
      {"series": "HadGEM3", "year": 1953, "value": 8.5},
      {"series": "HadGEM3", "year": 1956, "value": 9.5},
      {"series": "HadGEM3", "year": 1958.5, "value": 10.5},
      {"series": "HadGEM3", "year": 1961, "value": 11},
      {"series": "HadGEM3", "year": 1964, "value": 11.5},
      {"series": "HadGEM3", "year": 1966.7, "value": 12.5},
      {"series": "HadGEM3", "year": 1969.4, "value": 12.5},
      {"series": "HadGEM3", "year": 1972, "value": 13.4},
      {"series": "HadGEM3", "year": 1974.3, "value": 15.4},
      {"series": "HadGEM3", "year": 1976, "value": 15.4},
      {"series": "HadGEM3", "year": 1978, "value": 14.9},
      {"series": "HadGEM3", "year": 1980.3, "value": 16.9},
      {"series": "HadGEM3", "year": 1982.5, "value": 19.3},
      {"series": "HadGEM3", "year": 1984.7, "value": 18.3},
      {"series": "HadGEM3", "year": 1986.8, "value": 16.9},
      {"series": "HadGEM3", "year": 1989, "value": 17.4},
      {"series": "HadGEM3", "year": 1991.2, "value": 15.4},
      {"series": "HadGEM3", "year": 1993.4, "value": 13},
      {"series": "HadGEM3", "year": 1995.6, "value": 10.5},
      {"series": "HadGEM3", "year": 1997.7, "value": 12.5},
      {"series": "HadGEM3", "year": 2000, "value": 14},

      {"series": "MRI-ESM2-0", "year": 1855, "value": 0},
      {"series": "MRI-ESM2-0", "year": 1857, "value": 1.5},
      {"series": "MRI-ESM2-0", "year": 1859, "value": 4.5},
      {"series": "MRI-ESM2-0", "year": 1861, "value": 5},
      {"series": "MRI-ESM2-0", "year": 1863, "value": 3.6},
      {"series": "MRI-ESM2-0", "year": 1865, "value": 5.6},
      {"series": "MRI-ESM2-0", "year": 1867, "value": 3.6},
      {"series": "MRI-ESM2-0", "year": 1869, "value": 5.8},
      {"series": "MRI-ESM2-0", "year": 1871, "value": 5.5},
      {"series": "MRI-ESM2-0", "year": 1873, "value": 4.5},
      {"series": "MRI-ESM2-0", "year": 1875, "value": 5.6},
      {"series": "MRI-ESM2-0", "year": 1877, "value": 4.6},
      {"series": "MRI-ESM2-0", "year": 1879, "value": 5},
      {"series": "MRI-ESM2-0", "year": 1881.7, "value": 3.6},
      {"series": "MRI-ESM2-0", "year": 1884, "value": 3},
      {"series": "MRI-ESM2-0", "year": 1886, "value": 3.6},
      {"series": "MRI-ESM2-0", "year": 1888.3, "value": 4.6},
      {"series": "MRI-ESM2-0", "year": 1890.4, "value": 5.1},
      {"series": "MRI-ESM2-0", "year": 1892.6, "value": 6.1},
      {"series": "MRI-ESM2-0", "year": 1894.8, "value": 5.6},
      {"series": "MRI-ESM2-0", "year": 1897, "value": 3.6},
      {"series": "MRI-ESM2-0", "year": 1899.2, "value": 2.6},
      {"series": "MRI-ESM2-0", "year": 1901.3, "value": 1.2},
      {"series": "MRI-ESM2-0", "year": 1904, "value": 0.7},
      {"series": "MRI-ESM2-0", "year": 1906, "value": 1.6},
      {"series": "MRI-ESM2-0", "year": 1909, "value": 3.6},
      {"series": "MRI-ESM2-0", "year": 1912, "value": 4.1},
      {"series": "MRI-ESM2-0", "year": 1915, "value": 4.6},
      {"series": "MRI-ESM2-0", "year": 1918.8, "value": 4.6},
      {"series": "MRI-ESM2-0", "year": 1921, "value": 6.1},
      {"series": "MRI-ESM2-0", "year": 1923, "value": 6.6},
      {"series": "MRI-ESM2-0", "year": 1925.3, "value": 7.1},
      {"series": "MRI-ESM2-0", "year": 1927.5, "value": 7.5},
      {"series": "MRI-ESM2-0", "year": 1929.7, "value": 7.1},
      {"series": "MRI-ESM2-0", "year": 1931.3, "value": 4.6},
      {"series": "MRI-ESM2-0", "year": 1934, "value": 2.6},
      {"series": "MRI-ESM2-0", "year": 1937.3, "value": 0.7},
      {"series": "MRI-ESM2-0", "year": 1939.5, "value": 0.2},
      {"series": "MRI-ESM2-0", "year": 1941.6, "value": 1.5},
      {"series": "MRI-ESM2-0", "year": 1943.8, "value": 0.7},
      {"series": "MRI-ESM2-0", "year": 1946, "value": -0.3},
      {"series": "MRI-ESM2-0", "year": 1948, "value": 0},
      {"series": "MRI-ESM2-0", "year": 1949.3, "value": 1.2},
      {"series": "MRI-ESM2-0", "year": 1951, "value": 2.1},
      {"series": "MRI-ESM2-0", "year": 1953, "value": 3.6},
      {"series": "MRI-ESM2-0", "year": 1955.5, "value": 3.6},
      {"series": "MRI-ESM2-0", "year": 1958, "value": 2.1},
      {"series": "MRI-ESM2-0", "year": 1959.6, "value": 0.7},
      {"series": "MRI-ESM2-0", "year": 1961.2, "value": 2.6},
      {"series": "MRI-ESM2-0", "year": 1963.4, "value": 5.6},
      {"series": "MRI-ESM2-0", "year": 1965, "value": 5.3},
      {"series": "MRI-ESM2-0", "year": 1966.7, "value": 4.1},
      {"series": "MRI-ESM2-0", "year": 1969, "value": 4.6},
      {"series": "MRI-ESM2-0", "year": 1971, "value": 4.1},
      {"series": "MRI-ESM2-0", "year": 1973.2, "value": 3.6},
      {"series": "MRI-ESM2-0", "year": 1976, "value": 4.1},
      {"series": "MRI-ESM2-0", "year": 1978.7, "value": 4.6},
      {"series": "MRI-ESM2-0", "year": 1981.4, "value": 3.6},
      {"series": "MRI-ESM2-0", "year": 1984, "value": 2.6},
      {"series": "MRI-ESM2-0", "year": 1987, "value": 2.6},
      {"series": "MRI-ESM2-0", "year": 1989.6, "value": 2.1},
      {"series": "MRI-ESM2-0", "year": 1992.3, "value": 1.6},
      {"series": "MRI-ESM2-0", "year": 1995, "value": 2},
      {"series": "MRI-ESM2-0", "year": 1997.7, "value": 3.6},
      {"series": "MRI-ESM2-0", "year": 2000, "value": 4.6},

      {"series": "IPSL-CM6A-LR", "year": 1855, "value": -0.3},
      {"series": "IPSL-CM6A-LR", "year": 1859, "value": -1},
      {"series": "IPSL-CM6A-LR", "year": 1862, "value": -1.8},
      {"series": "IPSL-CM6A-LR", "year": 1864.3, "value": -3.3},
      {"series": "IPSL-CM6A-LR", "year": 1866.5, "value": -3.8},
      {"series": "IPSL-CM6A-LR", "year": 1868.7, "value": -2.8},
      {"series": "IPSL-CM6A-LR", "year": 1870.8, "value": -1.8},
      {"series": "IPSL-CM6A-LR", "year": 1873, "value": -0.8},
      {"series": "IPSL-CM6A-LR", "year": 1875.2, "value": 0.2},
      {"series": "IPSL-CM6A-LR", "year": 1878, "value": 0.5},
      {"series": "IPSL-CM6A-LR", "year": 1880.6, "value": 0.2},
      {"series": "IPSL-CM6A-LR", "year": 1883.4, "value": -0.8},
      {"series": "IPSL-CM6A-LR", "year": 1886.1, "value": -2.3},
      {"series": "IPSL-CM6A-LR", "year": 1888.3, "value": -3.8},
      {"series": "IPSL-CM6A-LR", "year": 1890.4, "value": -4.7},
      {"series": "IPSL-CM6A-LR", "year": 1894.3, "value": -5.2},
      {"series": "IPSL-CM6A-LR", "year": 1897, "value": -4.7},
      {"series": "IPSL-CM6A-LR", "year": 1899.7, "value": -3.8},
      {"series": "IPSL-CM6A-LR", "year": 1902.4, "value": -2.8},
      {"series": "IPSL-CM6A-LR", "year": 1905.1, "value": -1.8},
      {"series": "IPSL-CM6A-LR", "year": 1907.9, "value": -1.3},
      {"series": "IPSL-CM6A-LR", "year": 1911, "value": -1.8},
      {"series": "IPSL-CM6A-LR", "year": 1913.9, "value": -2.8},
      {"series": "IPSL-CM6A-LR", "year": 1916.6, "value": -4.7},
      {"series": "IPSL-CM6A-LR", "year": 1919.3, "value": -6.7},
      {"series": "IPSL-CM6A-LR", "year": 1922, "value": -7.7},
      {"series": "IPSL-CM6A-LR", "year": 1924.8, "value": -7.2},
      {"series": "IPSL-CM6A-LR", "year": 1927.5, "value": -7.7},
      {"series": "IPSL-CM6A-LR", "year": 1930.2, "value": -8.2},
      {"series": "IPSL-CM6A-LR", "year": 1933, "value": -7.8},
      {"series": "IPSL-CM6A-LR", "year": 1935.7, "value": -7.7},
      {"series": "IPSL-CM6A-LR", "year": 1938.4, "value": -6.7},
      {"series": "IPSL-CM6A-LR", "year": 1940, "value": -2.3},
      {"series": "IPSL-CM6A-LR", "year": 1941.6, "value": 0.2},
      {"series": "IPSL-CM6A-LR", "year": 1943.3, "value": -0.8},
      {"series": "IPSL-CM6A-LR", "year": 1945.5, "value": -3.3},
      {"series": "IPSL-CM6A-LR", "year": 1947.6, "value": -4.7},
      {"series": "IPSL-CM6A-LR", "year": 1949.8, "value": -7.2},
      {"series": "IPSL-CM6A-LR", "year": 1952, "value": -8.2},
      {"series": "IPSL-CM6A-LR", "year": 1954, "value": -8.2},
      {"series": "IPSL-CM6A-LR", "year": 1956.3, "value": -7.2},
      {"series": "IPSL-CM6A-LR", "year": 1958.5, "value": -6.2},
      {"series": "IPSL-CM6A-LR", "year": 1960.7, "value": -4.7},
      {"series": "IPSL-CM6A-LR", "year": 1962.9, "value": -3.3},
      {"series": "IPSL-CM6A-LR", "year": 1965, "value": -2.3},
      {"series": "IPSL-CM6A-LR", "year": 1967.2, "value": -1.8},
      {"series": "IPSL-CM6A-LR", "year": 1969.4, "value": -2.3},
      {"series": "IPSL-CM6A-LR", "year": 1971.6, "value": -1.8},
      {"series": "IPSL-CM6A-LR", "year": 1973.8, "value": -2.3},
      {"series": "IPSL-CM6A-LR", "year": 1976, "value": -1.3},
      {"series": "IPSL-CM6A-LR", "year": 1978, "value": -0.3},
      {"series": "IPSL-CM6A-LR", "year": 1980.3, "value": 0.7},
      {"series": "IPSL-CM6A-LR", "year": 1982.5, "value": 1.2},
      {"series": "IPSL-CM6A-LR", "year": 1984.7, "value": 0.2},
      {"series": "IPSL-CM6A-LR", "year": 1987, "value": -0.3},
      {"series": "IPSL-CM6A-LR", "year": 1989, "value": -0.8},
      {"series": "IPSL-CM6A-LR", "year": 1991, "value": 0},
      {"series": "IPSL-CM6A-LR", "year": 1993.4, "value": 0.7},
      {"series": "IPSL-CM6A-LR", "year": 1995.6, "value": -0.3},
      {"series": "IPSL-CM6A-LR", "year": 2000, "value": 0.2}
    ]
  },
  "layer": [
    {
      "data": {"name": "recon"},
      "mark": {"type": "area", "color": "#b5b5b7", "clip": true},
      "encoding": {
        "x": {"field": "year", "type": "quantitative", "scale": {"domain": [1850, 2000], "nice": false, "zero": false},
          "axis": {"orient": "bottom", "values": [1850, 1875, 1900, 1925, 1950, 1975, 2000], "format": "d", "tickSize": 12, "tickWidth": 2, "labelFontSize": 32, "labelPadding": 35, "labelBaseline": "alphabetic", "labelFlush": false, "labelOverlap": false, "title": "Year", "titleFontSize": 49, "titleFontWeight": "bold", "titleX": 450, "titleY": 95, "titleBaseline": "alphabetic", "titleAlign": "center"}},
        "y": {"field": "lo", "type": "quantitative", "scale": {"domain": [-20, 120], "nice": false, "zero": false},
          "axis": {"orient": "left", "values": [-20, 0, 20, 40, 60, 80, 100, 120], "tickSize": 12, "tickWidth": 2, "labelFontSize": 32, "labelPadding": 12, "labelFlush": false, "labelOverlap": false, "title": ["Relative change in global dust", "loading since 1841-1860 (%)"], "titleFontSize": 37, "titleFontWeight": "bold", "titleAngle": -90, "titleX": -184, "titleY": 251, "titleBaseline": "top", "titleAlign": "center", "titleLineHeight": 62}},
        "y2": {"field": "hi"}
      }
    },
    {
      "data": {"name": "models"},
      "mark": {"type": "line", "strokeWidth": 2.2, "clip": true, "interpolate": "monotone"},
      "encoding": {
        "x": {"field": "year", "type": "quantitative",
          "axis": {"orient": "bottom", "values": [1850, 1855, 1860, 1865, 1870, 1875, 1880, 1885, 1890, 1895, 1900, 1905, 1910, 1915, 1920, 1925, 1930, 1935, 1940, 1945, 1950, 1955, 1960, 1965, 1970, 1975, 1980, 1985, 1990, 1995, 2000], "tickSize": 7, "tickWidth": 1.5, "labels": false, "title": null}},
        "y": {"field": "value", "type": "quantitative",
          "axis": {"orient": "left", "values": [-20, -15, -10, -5, 0, 5, 10, 15, 20, 25, 30, 35, 40, 45, 50, 55, 60, 65, 70, 75, 80, 85, 90, 95, 100, 105, 110, 115, 120], "tickSize": 7, "tickWidth": 1.5, "labels": false, "title": null}},
        "color": {"field": "series", "type": "nominal",
          "scale": {"domain": ["CESM2-WACCM", "CESM2", "CNRM-ESM2-1", "GFDL-ESM4-MM", "GISS-E2-1-G", "CanESM5", "Ensemble mean", "MIROC-ES2L", "NorESM2-MM", "UKESM1", "HadGEM3", "MRI-ESM2-0", "IPSL-CM6A-LR"],
            "range": ["#4a4a4a", "#1a7a80", "#e8262b", "#2a6ae0", "#2eaa62", "#8a3cf5", "#000000", "#f47ef0", "#c99a2e", "#20c8c8", "#1c2a8a", "#ff7d1e", "#1f5c1f"]},
          "legend": {"orient": "none", "legendX": 16, "legendY": 65, "title": "CMIP6 models:", "titleFontSize": 19, "titleFontWeight": "normal", "titlePadding": -2, "columns": 2, "columnPadding": 16, "rowPadding": 0, "symbolType": "stroke", "symbolSize": 729, "symbolStrokeWidth": 2, "labelFontSize": 18, "labelOffset": 4, "labelLimit": 300, "padding": 0}},
        "strokeDash": {"field": "series", "type": "nominal",
          "scale": {"domain": ["CESM2-WACCM", "CESM2", "CNRM-ESM2-1", "GFDL-ESM4-MM", "GISS-E2-1-G", "CanESM5", "Ensemble mean", "MIROC-ES2L", "NorESM2-MM", "UKESM1", "HadGEM3", "MRI-ESM2-0", "IPSL-CM6A-LR"],
            "range": [[1, 0], [1, 0], [1, 0], [1, 0], [1, 0], [1, 0], [6, 5], [1, 0], [1, 0], [1, 0], [1, 0], [1, 0], [1, 0]]}}
      }
    },
    {
      "data": {"name": "ens"},
      "mark": {"type": "line", "strokeWidth": 3.5, "clip": true, "interpolate": "monotone", "strokeDash": [9, 6]},
      "encoding": {
        "x": {"field": "year", "type": "quantitative",
          "axis": {"orient": "top", "values": [1850, 1875, 1900, 1925, 1950, 1975, 2000], "tickSize": -12, "tickWidth": 2, "labels": false, "title": null}},
        "y": {"field": "value", "type": "quantitative",
          "axis": {"orient": "right", "values": [-20, 0, 20, 40, 60, 80, 100, 120], "tickSize": -12, "tickWidth": 2, "labels": false, "title": null}},
        "color": {"field": "series", "type": "nominal"}
      }
    },
    {
      "data": {"name": "recon"},
      "mark": {"type": "line", "color": "black", "clip": true},
      "encoding": {
        "x": {"field": "year", "type": "quantitative",
          "axis": {"orient": "top", "values": [1850, 1855, 1860, 1865, 1870, 1875, 1880, 1885, 1890, 1895, 1900, 1905, 1910, 1915, 1920, 1925, 1930, 1935, 1940, 1945, 1950, 1955, 1960, 1965, 1970, 1975, 1980, 1985, 1990, 1995, 2000], "tickSize": -7, "tickWidth": 1.5, "labels": false, "title": null}},
        "y": {"field": "value", "type": "quantitative",
          "axis": {"orient": "right", "values": [-20, -15, -10, -5, 0, 5, 10, 15, 20, 25, 30, 35, 40, 45, 50, 55, 60, 65, 70, 75, 80, 85, 90, 95, 100, 105, 110, 115, 120], "tickSize": -7, "tickWidth": 1.5, "labels": false, "title": null}},
        "strokeWidth": {"field": "series", "type": "nominal", "scale": {"domain": ["Dust reconstruction"], "range": [4, 4]},
          "legend": {"orient": "none", "legendX": 15, "legendY": 18, "title": null, "symbolType": "stroke", "symbolSize": 900, "symbolStrokeColor": "black", "labelFontSize": 19, "labelOffset": 3, "labelLimit": 300, "padding": 0}}
      }
    },
    {
      "data": {"values": [{}]},
      "mark": {"type": "rect", "fill": "white", "stroke": "#333333", "strokeWidth": 1.5},
      "encoding": {
        "x": {"datum": 1851.6, "type": "quantitative", "axis": null},
        "x2": {"datum": 1912.3},
        "y": {"datum": 114.6, "type": "quantitative", "axis": null},
        "y2": {"datum": 45.2}
      }
    },
    {
      "data": {"values": [{}]},
      "mark": {"type": "text", "text": "Kok, Leung et al. (2023)", "font": "Lato", "fontSize": 43, "align": "left", "baseline": "alphabetic", "color": "black"},
      "encoding": {
        "x": {"datum": 1914.1, "type": "quantitative", "axis": null},
        "y": {"datum": 93.1, "type": "quantitative", "axis": null}
      }
    }
  ],
  "resolve": {"axis": {"x": "independent", "y": "independent"}}
}
